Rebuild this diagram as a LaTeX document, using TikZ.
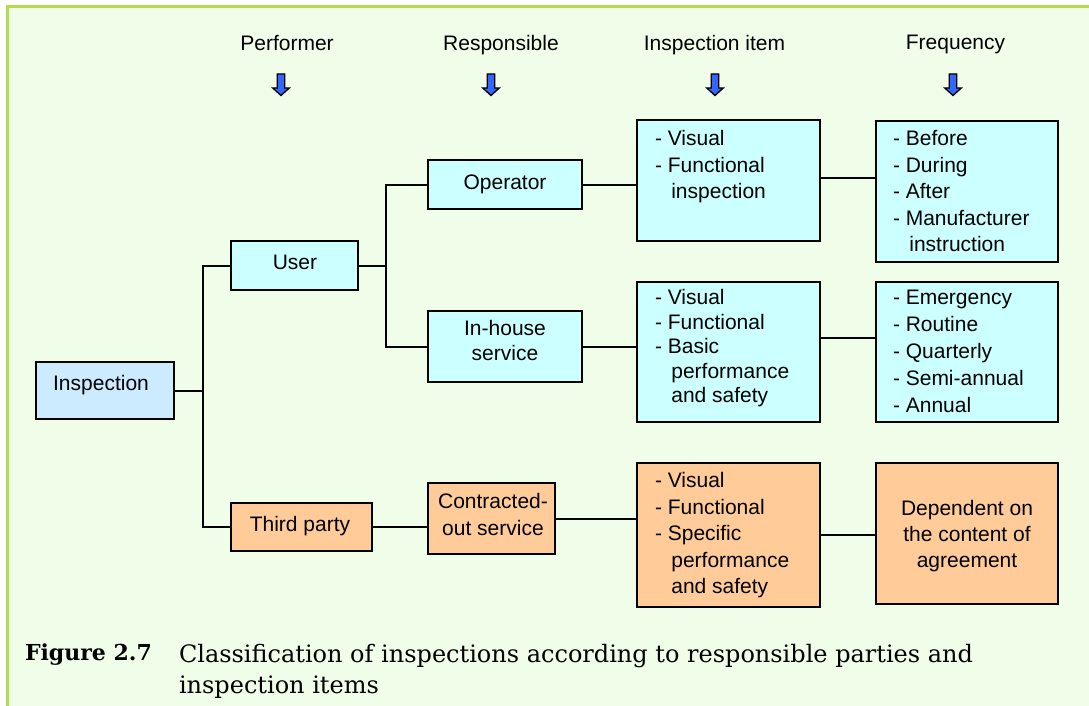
\documentclass[tikz,border=0pt]{standalone}
\usepackage{fontspec}
\setsansfont{Liberation Sans}
\newfontfamily\capserif{DejaVu Serif}
\definecolor{framegreen}{HTML}{B5DC4C}
\definecolor{pagegreen}{HTML}{EFFDE9}
\definecolor{rootblue}{HTML}{CCEBFF}
\definecolor{boxcyan}{HTML}{CCFFFF}
\definecolor{boxorange}{HTML}{FFCC99}
\definecolor{arrowblue}{HTML}{3366FF}
% panel: name, style, x1, y1, x2, y2 (pixel-like units, y downwards)
\newcommand{\panel}[6]{\node[#2, minimum width={#5-#3}, minimum height={#6-#4}] (#1) at (#3,#4) {};}
\begin{document}
\begin{tikzpicture}[x=1pt,y=-1pt,
  box/.style={draw=black, line width=2pt, anchor=north west, inner sep=0, outer sep=0},
  rootbox/.style={box, fill=rootblue},
  cyanbox/.style={box, fill=boxcyan},
  orangebox/.style={box, fill=boxorange},
  txt/.style={font=\sffamily\fontsize{21}{26.5}\selectfont, inner sep=0, outer sep=0, text=black},
  listtxt/.style={txt, align=left, anchor=north west},
  ctrtxt/.style={txt, align=center, anchor=north},
  conn/.style={draw=black, line width=2pt},
  downarrow/.style={fill=arrowblue, draw=black, line width=1.3pt, line join=miter},
  capfont/.style={font=\capserif\fontsize{24}{31}\selectfont, inner sep=0, outer sep=0, text=black}
]
% page background and frame
\useasboundingbox (0,0) rectangle (1089,706);
\fill[pagegreen] (7,7) rectangle (1089,706);
\draw[framegreen, line width=3pt] (7,706) -- (7,7) -- (1089,7);

% column headings
\node[ctrtxt] (hperf) at (287,35.5) {Performer};
\node[ctrtxt] (hresp) at (501,35.5) {Responsible};
\node[ctrtxt] (hitem) at (714.5,35.5) {Inspection item};
\node[ctrtxt] (hfreq) at (955.5,35.5) {Frequency};

% heading arrows
\foreach \ax/\nm in {281/aperf, 491/aresp, 715/aitem, 953/afreq}{
  \coordinate (\nm) at (\ax,74);
  \draw[downarrow] (\nm) ++(-3.8,0) -- ++(7.6,0) -- ++(0,14) -- ++(4.5,0)
        -- ++(-8.3,7.5) -- ++(-8.3,-7.5) -- ++(4.5,0) -- cycle;
}

% boxes
\panel{insp}{rootbox}{36}{362}{174}{419}
\panel{user}{cyanbox}{231}{241}{358}{290}
\panel{third}{orangebox}{231}{503}{372}{551}
\panel{op}{cyanbox}{428}{160}{582}{209}
\panel{inh}{cyanbox}{428}{311}{582}{382}
\panel{con}{orangebox}{428}{483}{555}{554}
\panel{item1}{cyanbox}{637}{120}{820}{241}
\panel{freq1}{cyanbox}{876}{121}{1058}{262}
\panel{item2}{cyanbox}{637}{282}{820}{422}
\panel{freq2}{cyanbox}{876}{282}{1058}{422}
\panel{item3}{orangebox}{637}{463}{820}{607}
\panel{freq3}{orangebox}{876}{463}{1058}{604}

% box texts
\node[ctrtxt] (insptxt) at (101,375.5) {Inspection};
\node[ctrtxt] (usertxt) at (295,255) {User};
\node[ctrtxt] (thirdtxt) at (300,516) {Third party};
\node[ctrtxt] (optxt) at (505,175) {Operator};
\node[ctrtxt, font=\sffamily\fontsize{21}{25.5}\selectfont] (inhtxt) at (505,320) {In-house\\service};
\node[ctrtxt] (contxt) at (493,493.5) {Contracted-\\out service};
\node[listtxt] (item1txt) at (655,130.5) {- Visual\\- Functional\\\phantom{- }\,inspection};
\node[listtxt] (freq1txt) at (893,130.5) {- Before\\- During\\- After\\- Manufacturer\\\phantom{- }\,instruction};
\node[listtxt, font=\sffamily\fontsize{21}{24.5}\selectfont] (item2txt) at (655,289.5) {- Visual\\- Functional\\- Basic\\\phantom{- }\,performance\\\phantom{- }\,and safety};
\node[listtxt, font=\sffamily\fontsize{21}{27}\selectfont] (freq2txt) at (893,290.5) {- Emergency\\- Routine\\- Quarterly\\- Semi-annual\\- Annual};
\node[listtxt] (item3txt) at (655,472.5) {- Visual\\- Functional\\- Specific\\\phantom{- }\,performance\\\phantom{- }\,and safety};
\node[ctrtxt, font=\sffamily\fontsize{21}{26}\selectfont] (freq3txt) at (967,500.5) {Dependent on\\the content of\\agreement};

% connectors
\coordinate (tx) at ([xshift=29pt]insp.east);
\draw[conn] (insp.east) -- (tx);
\draw[conn] (user.west) -| (tx) |- (third.west);
\coordinate (ux) at ([xshift=28pt]user.east);
\draw[conn] (user.east) -- (ux);
\draw[conn] (op.west) -| (ux) |- (inh.west);
\draw[conn] (third.east) -- (third.east -| con.west);
\draw[conn] (op.east) -- (op.east -| item1.west);
\draw[conn] (inh.east) -- (inh.east -| item2.west);
\draw[conn] (con.east) -- (con.east -| item3.west);
\draw[conn] ([yshift=3pt]item1.east) -- ([yshift=3pt]item1.east -| freq1.west);
\draw[conn] ([yshift=14pt]item2.east) -- ([yshift=14pt]item2.east -| freq2.west);
\draw[conn] (item3.east) -- (item3.east -| freq3.west);

% caption
\node[capfont, font=\capserif\fontsize{22}{31}\selectfont\bfseries, anchor=north west] (figlabel) at (25,644) {Figure 2.7};
\node[capfont, align=left, anchor=north west] (figcaption) at (179,644) {Classification of inspections according to responsible parties and\\inspection items};
\end{tikzpicture}
\end{document}
